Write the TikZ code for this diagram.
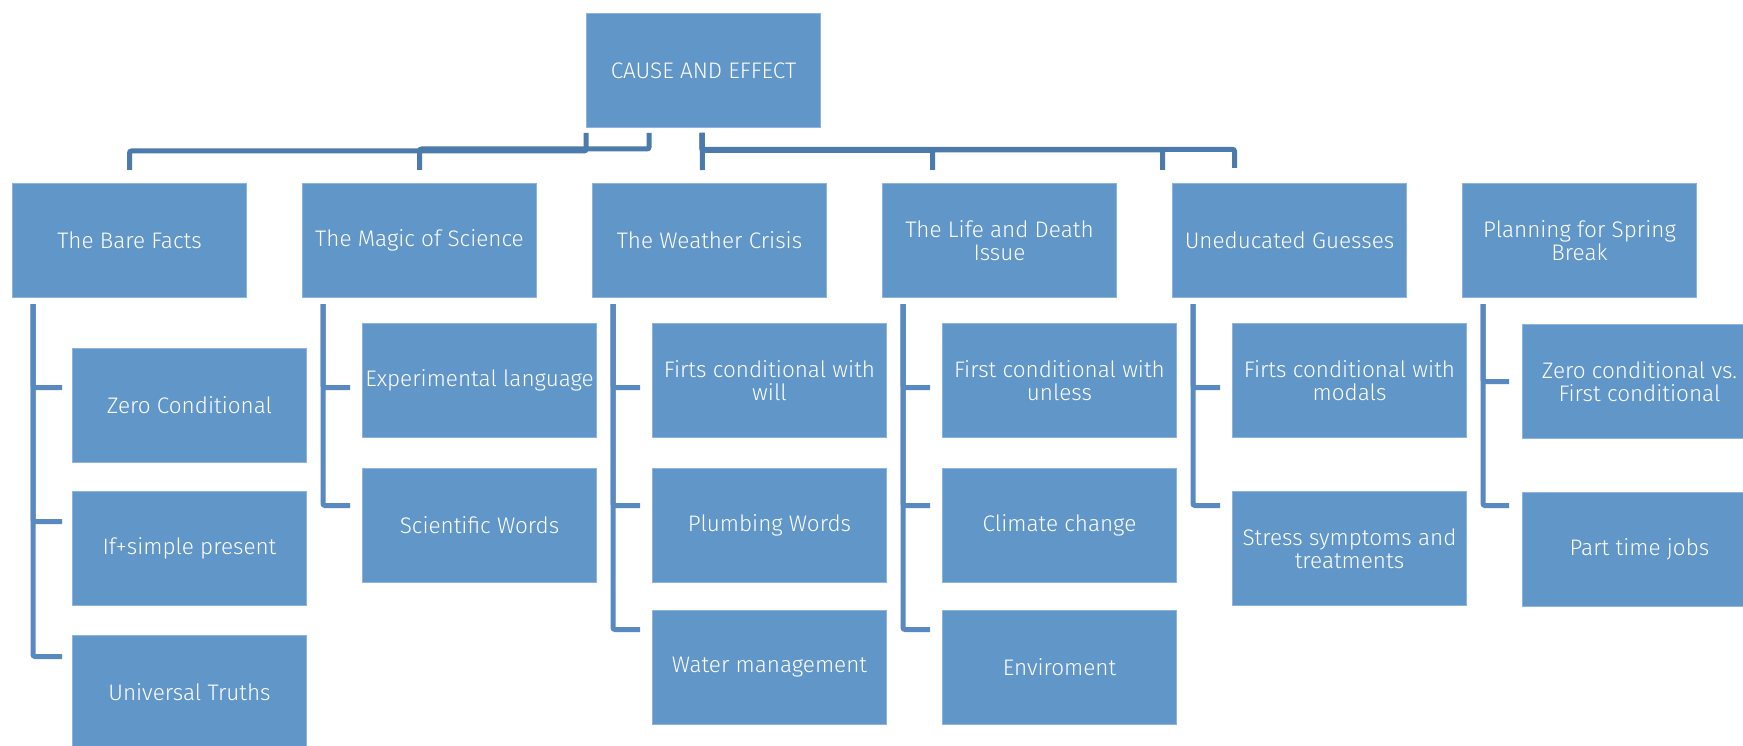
\documentclass[tikz,border=0pt]{standalone}
\usepackage{fontspec}
\setmainfont{Fira Sans Light}
\usetikzlibrary{calc}
\definecolor{boxfill}{RGB}{97,150,201}
\definecolor{boxedge}{RGB}{140,180,222}
\definecolor{topline}{RGB}{76,123,171}
\definecolor{kidline}{RGB}{88,137,192}
\tikzset{
  card/.style={rectangle, anchor=north west, fill=boxfill, draw=boxedge, line width=1pt,
    minimum width=234pt, minimum height=114pt, inner sep=0pt, align=center,
    text=white, font=\fontsize{22.5}{23}\selectfont},
  topconn/.style={draw=topline, line width=5pt, rounded corners=2pt},
  kidconn/.style={draw=kidline, line width=5pt, rounded corners=2pt},
}
\begin{document}
\begin{tikzpicture}[x=1pt,y=-1pt]
\useasboundingbox (0,0) rectangle (1743,746);
\fill[white] (0,0) rectangle (1743,746);
% root
\node[card] (root) at (586,13) {CAUSE AND EFFECT};
% level 1
\node[card] (b1) at (12,183) {The Bare Facts};
\node[card] (b2) at (302,183) {The Magic of Science};
\node[card] (b3) at (592,183) {The Weather Crisis};
\node[card] (b4) at (882,183) {The Life and Death\\Issue};
\node[card] (b5) at (1172,183) {Uneducated Guesses};
\node[card] (b6) at (1462,183) {Planning for Spring\\Break};
% children
\node[card] (c11) at (72,348) {Zero Conditional};
\node[card] (c12) at (72,491) {If+simple present};
\node[card] (c13) at (72,635) {Universal Truths};
\node[card] (c21) at (362,323) {Experimental language};
\node[card] (c22) at (362,468) {Scientific Words};
\node[card] (c31) at (652,323) {Firts conditional with\\will};
\node[card] (c32) at (652,468) {Plumbing Words};
\node[card] (c33) at (652,610) {Water management};
\node[card] (c41) at (942,323) {First conditional with\\unless};
\node[card] (c42) at (942,468) {Climate change};
\node[card] (c43) at (942,610) {Enviroment};
\node[card] (c51) at (1232,323) {Firts conditional with\\modals};
\node[card] (c52) at (1232,491) {Stress symptoms and\\treatments};
\node[card] (c61) at (1522,324) {Zero conditional vs.\\First conditional};
\node[card] (c62) at (1522,492) {Part time jobs};
% top connectors
\coordinate (r1) at ([yshift=-5pt]root.south west);
\coordinate (r2) at ([xshift=63pt,yshift=-5pt]root.south west);
\coordinate (r3) at ([xshift=116pt,yshift=-5pt]root.south west);
\draw[topconn] (r1) -- ($(r1)+(0,18)$) -| ([yshift=13pt]b1.north);
\draw[topconn] (r2) -- ($(r2)+(0,16)$) -| ([yshift=13pt]b2.north);
\draw[topconn] (r3) -- ([xshift=-7pt,yshift=13pt]b3.north);
\draw[topconn] (r3) -- ($(r3)+(0,17.5)$) -| ([xshift=-67pt,yshift=13pt]b4.north);
\draw[topconn] (r3) -- ($(r3)+(0,17)$) -| ([xshift=-127pt,yshift=13pt]b5.north);
\draw[topconn] (r3) -- ($(r3)+(0,16.3)$) -| ([xshift=-345pt,yshift=15pt]b6.north);
% child connectors
\coordinate (s1) at ([xshift=21pt,yshift=-6pt]b1.south west);
\coordinate (s2) at ([xshift=21pt,yshift=-6pt]b2.south west);
\coordinate (s3) at ([xshift=21pt,yshift=-6pt]b3.south west);
\coordinate (s4) at ([xshift=21pt,yshift=-6pt]b4.south west);
\coordinate (s5) at ([xshift=21pt,yshift=-6pt]b5.south west);
\coordinate (s6) at ([xshift=21pt,yshift=-6pt]b6.south west);
\draw[kidconn] (s1) |- ([xshift=-10pt,yshift=18pt]c11.west);
\draw[kidconn] (s1) |- ([xshift=-10pt,yshift=27pt]c12.west);
\draw[kidconn] (s1) |- ([xshift=-10pt,yshift=36pt]c13.west);
\draw[kidconn] (s2) |- ([xshift=-12pt,yshift=-7pt]c21.west);
\draw[kidconn] (s2) |- ([xshift=-12pt,yshift=20pt]c22.west);
\draw[kidconn] (s3) |- ([xshift=-12pt,yshift=-7pt]c31.west);
\draw[kidconn] (s3) |- ([xshift=-12pt,yshift=20pt]c32.west);
\draw[kidconn] (s3) |- ([xshift=-12pt,yshift=38pt]c33.west);
\draw[kidconn] (s4) |- ([xshift=-12pt,yshift=-7pt]c41.west);
\draw[kidconn] (s4) |- ([xshift=-12pt,yshift=20pt]c42.west);
\draw[kidconn] (s4) |- ([xshift=-12pt,yshift=38pt]c43.west);
\draw[kidconn] (s5) |- ([xshift=-12pt,yshift=-7pt]c51.west);
\draw[kidconn] (s5) |- ([xshift=-12pt,yshift=43pt]c52.west);
\draw[kidconn] (s6) |- ([xshift=-13pt,yshift=0pt]c61.west);
\draw[kidconn] (s6) |- ([xshift=-13pt,yshift=44pt]c62.west);
\end{tikzpicture}
\end{document}
